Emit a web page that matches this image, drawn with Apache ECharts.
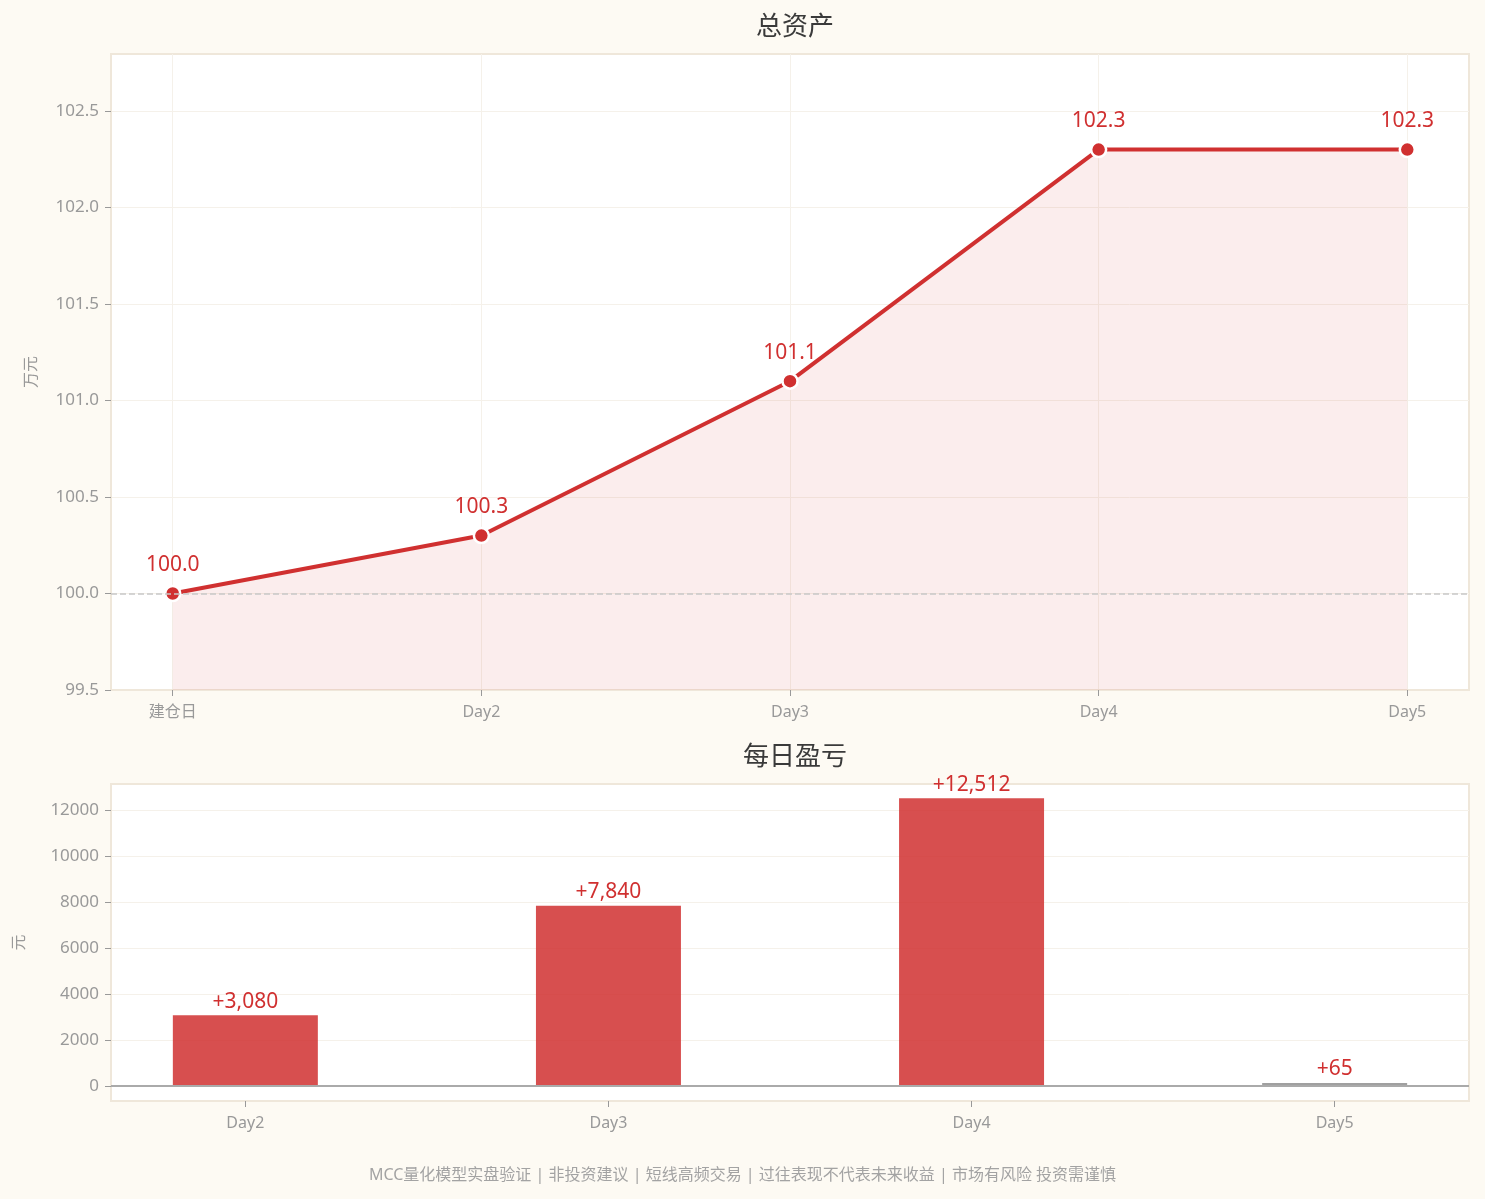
<!DOCTYPE html>
<html>
<head>
<meta charset="utf-8">
<script src="https://cdn.jsdelivr.net/npm/echarts@6/dist/echarts.min.js"></script>
<style>
html,body{margin:0;padding:0;background:#fdfaf3;}
#c{width:1485px;height:1199px;}
</style>
</head>
<body>
<div id="c"></div>
<script>
const categories = ['建仓日', 'Day2', 'Day3', 'Day4', 'Day5'];
const totalAssets = [100.0, 100.3, 101.1, 102.3, 102.3];
const pnlCategories = ['Day2', 'Day3', 'Day4', 'Day5'];
const dailyPnl = [3080, 7840, 12512, 65];
const assetTickValues = [99.5, 100.0, 100.5, 101.0, 101.5, 102.0, 102.5];
const pnlTickValues = [0, 2000, 4000, 6000, 8000, 10000, 12000];
const footerText = 'MCC量化模型实盘验证 | 非投资建议 | 短线高频交易 | 过往表现不代表未来收益 | 市场有风险 投资需谨慎';

const RED = '#d03030';
const FONT = '"Noto Sans", "Noto Sans CJK SC", sans-serif';
const idx0 = categories.map((_, i) => i);
const idx1 = pnlCategories.map((_, i) => i);

const chart = echarts.init(document.getElementById('c'), null, {renderer: 'canvas'});
chart.setOption({
  backgroundColor: '#fdfaf3',
  textStyle: {fontFamily: FONT},
  title: [
    {text: '总资产', left: 790, textAlign: 'center', top: 10, textStyle: {fontSize: 26, fontWeight: 'normal', color: '#3a3a3a', fontFamily: FONT}},
    {text: '每日盈亏', left: 790, textAlign: 'center', top: 740, textStyle: {fontSize: 26, fontWeight: 'normal', color: '#3a3a3a', fontFamily: FONT}},
    {text: footerText, left: 'center', top: 1162, textStyle: {fontSize: 16, fontWeight: 'normal', color: '#a3a3a3', fontFamily: FONT}}
  ],
  grid: [
    {left: 111, right: 16, top: 54, height: 636, show: true, backgroundColor: '#ffffff', borderColor: '#efe7da', borderWidth: 2},
    {left: 111, right: 16, top: 784, height: 317, show: true, backgroundColor: '#ffffff', borderColor: '#efe7da', borderWidth: 2}
  ],
  xAxis: [
    {
      gridIndex: 0, type: 'value', min: -0.2, max: 4.2,
      axisLine: {show: true, onZero: false, lineStyle: {color: '#efe7da', width: 2}},
      axisTick: {show: true, customValues: idx0, length: 6, lineStyle: {color: '#999'}},
      axisLabel: {customValues: idx0, formatter: v => categories[Math.round(v)], color: '#999', fontSize: 16, margin: 14},
      splitLine: {show: true, lineStyle: {color: '#f5f1ea', width: 1}}
    },
    {
      gridIndex: 1, type: 'value', min: -0.37, max: 3.37,
      axisLine: {show: true, onZero: false, lineStyle: {color: '#efe7da', width: 2}},
      axisTick: {show: true, customValues: idx1, length: 6, lineStyle: {color: '#999'}},
      axisLabel: {customValues: idx1, formatter: v => pnlCategories[Math.round(v)], color: '#999', fontSize: 16, margin: 14},
      splitLine: {show: false}
    }
  ],
  yAxis: [
    {
      gridIndex: 0, type: 'value', min: 99.5, max: 102.795,
      name: '万元', nameLocation: 'middle', nameGap: 72, nameRotate: 90,
      nameTextStyle: {color: '#999', fontSize: 16},
      axisLine: {show: true, onZero: false, lineStyle: {color: '#efe7da', width: 2}},
      axisTick: {show: true, customValues: assetTickValues, length: 6, lineStyle: {color: '#999'}},
      axisLabel: {customValues: assetTickValues, formatter: v => v.toFixed(1), color: '#999', fontSize: 17, margin: 12},
      splitLine: {show: true, lineStyle: {color: '#f5f1ea', width: 1}}
    },
    {
      gridIndex: 1, type: 'value', min: -652, max: 13130,
      name: '元', nameLocation: 'middle', nameGap: 84, nameRotate: 90,
      nameTextStyle: {color: '#999', fontSize: 16},
      axisLine: {show: true, onZero: false, lineStyle: {color: '#efe7da', width: 2}},
      axisTick: {show: true, customValues: pnlTickValues, length: 6, lineStyle: {color: '#999'}},
      axisLabel: {customValues: pnlTickValues, formatter: v => String(v), color: '#999', fontSize: 17, margin: 12},
      splitLine: {show: true, lineStyle: {color: '#f5f1ea', width: 1}}
    }
  ],
  series: [
    {
      type: 'line', xAxisIndex: 0, yAxisIndex: 0,
      data: totalAssets.map((v, i) => [i, v]),
      symbol: 'circle', symbolSize: 15,
      lineStyle: {color: RED, width: 4},
      itemStyle: {color: RED, borderColor: '#fff', borderWidth: 2.5},
      areaStyle: {color: 'rgba(208,48,48,0.12)', origin: 'start'},
      label: {show: true, position: 'top', distance: 9, color: RED, fontSize: 21, formatter: p => p.value[1].toFixed(1)},
      markLine: {
        silent: true, symbol: 'none', label: {show: false},
        lineStyle: {color: '#c8c8c8', type: 'dashed', width: 1.5},
        data: [{yAxis: 100}]
      },
      z: 3
    },
    {
      type: 'bar', xAxisIndex: 1, yAxisIndex: 1,
      data: dailyPnl.map((v, i) => [i, v]),
      barWidth: 145,
      barMinHeight: 3,
      itemStyle: {color: p => p.value[1] < 500 ? '#a0a0a0' : 'rgba(208,48,48,0.85)'},
      label: {show: true, position: 'top', distance: 3, color: RED, fontSize: 21,
        formatter: p => '+' + p.value[1].toLocaleString('en-US')},
      markLine: {
        silent: true, symbol: 'none', label: {show: false},
        lineStyle: {color: '#aaaaaa', type: 'solid', width: 2},
        data: [{yAxis: 0}]
      }
    }
  ]
});
</script>
</body>
</html>
